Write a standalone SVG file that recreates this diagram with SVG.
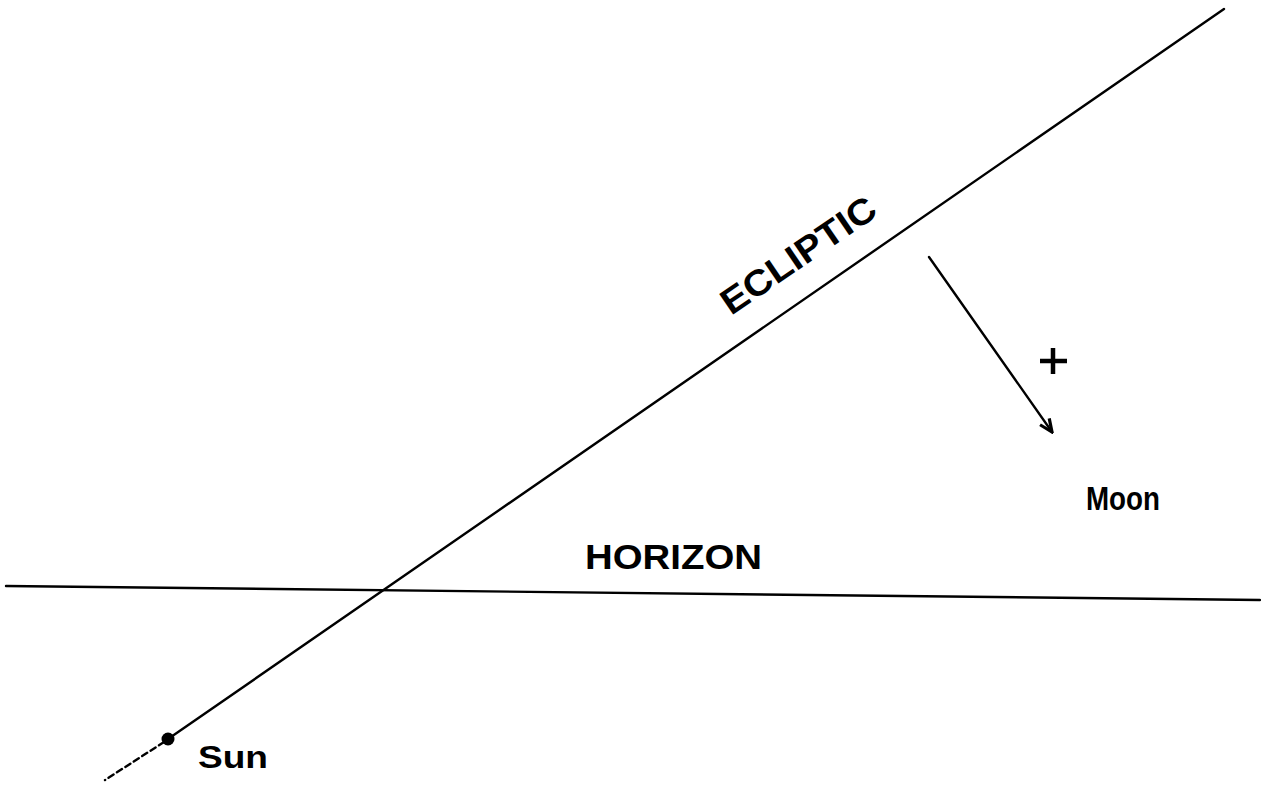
<svg xmlns="http://www.w3.org/2000/svg" width="1261" height="786" viewBox="0 0 1261 786">
<style>
.ln{stroke:#000;stroke-width:2.4;fill:none;stroke-linecap:round}
.lbl{font-family:"Liberation Sans",Arial,sans-serif;font-weight:bold;fill:#000}
</style>
<defs>
<marker id="ah" viewBox="0 0 10 10" refX="9" refY="5" markerWidth="16" markerHeight="16" markerUnits="userSpaceOnUse" orient="auto">
<path d="M1,1.5 L9,5 L1,8.5" fill="none" stroke="#000" stroke-width="2"/>
</marker>
</defs>
<rect width="1261" height="786" fill="#fff"/>
<g id="connectors">
<line id="ecliptic-line" class="ln" x1="1224" y1="9" x2="168" y2="739"/>
<line id="ecliptic-dashed" class="ln" x1="164" y1="742" x2="105" y2="780" stroke-dasharray="6,4" stroke-width="1.3"/>
<line id="horizon-line" class="ln" x1="6" y1="586" x2="1260" y2="600"/>
<line id="moon-arrow" class="ln" x1="929" y1="257" x2="1052" y2="432" marker-end="url(#ah)"/>
</g>
<g id="ecliptic-label">
<text class="lbl" font-size="36" transform="translate(731,316) rotate(-34.3)" textLength="180" lengthAdjust="spacingAndGlyphs">ECLIPTIC</text>
</g>
<g id="horizon-label">
<text class="lbl" x="585" y="569" font-size="35" textLength="177" lengthAdjust="spacingAndGlyphs">HORIZON</text>
</g>
<g id="moon">
<text class="lbl" x="1086" y="510" font-size="34" textLength="74" lengthAdjust="spacingAndGlyphs">Moon</text>
<path d="M1040,361 H1067 M1053,348 V374" stroke="#000" stroke-width="4.5" fill="none"/>
</g>
<g id="sun">
<circle cx="168" cy="739" r="6.5" fill="#000"/>
<text class="lbl" x="198" y="768" font-size="31" textLength="70" lengthAdjust="spacingAndGlyphs">Sun</text>
</g>
</svg>
